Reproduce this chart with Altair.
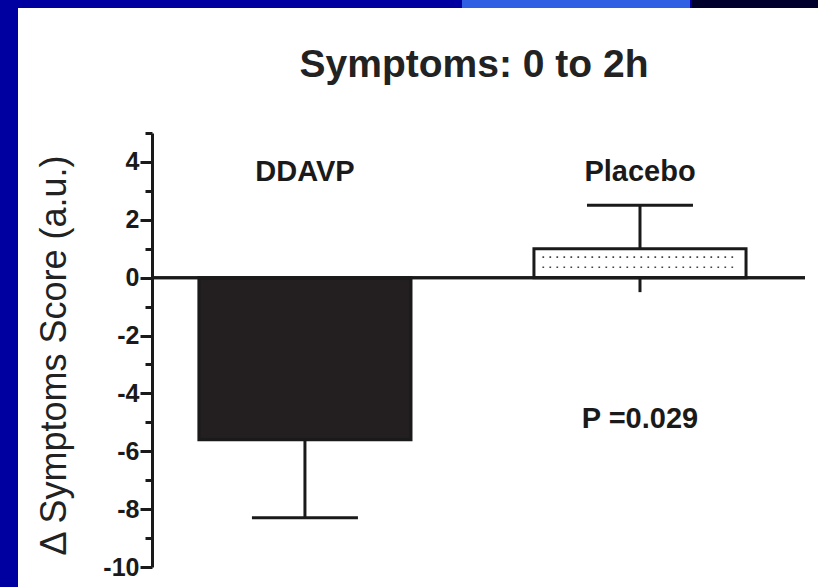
import altair as alt
import pandas as pd

# ---- data ----
groups = ["DDAVP", "Placebo"]
means = [-5.6, 1.0]
sems = [2.7, 1.5]
y_ticks = list(range(-10, 6))
p_text = "P =0.029"
title_text = "Symptoms: 0 to 2h"
y_title = "\u0394 Symptoms Score (a.u.)"

df = pd.DataFrame({"group": groups, "mean": means, "sem": sems})

FONT = "Liberation Sans"
INK = "#1a1a1a"

base = alt.Chart(df)

x_scale = alt.Scale(domain=groups, paddingInner=0.367, paddingOuter=0.158, align=0.443)
x_enc = alt.X("group:N", scale=x_scale, axis=None)
y_scale = alt.Scale(domain=[-10, 5], nice=False, zero=False)

y_axis = alt.Axis(
    values=y_ticks,
    labelExpr="datum.value % 2 === 0 ? '' + datum.value : ''",
    tickSize={"condition": {"test": "datum.value % 2 === 0", "value": 12}, "value": 7},
    tickWidth=3,
    tickColor=INK,
    domainColor=INK,
    domainWidth=3,
    grid=False,
    labelFont=FONT,
    labelFontWeight="bold",
    labelFontSize=25,
    labelColor=INK,
    labelPadding=1,
    title=y_title,
    titleFont=FONT,
    titleFontSize=36,
    titleFontWeight="normal",
    titleColor="#222222",
    titleAngle=270,
    titleAlign="center",
    titleBaseline="alphabetic",
    titleX=-87,
    titleY=222,
    zindex=1,
)

# decorative slide frame (white panel over blue background)
deco = alt.Chart(pd.DataFrame({"k": [0]}))
panel = deco.mark_rect(color="white").encode(
    x=alt.value(-134), x2=alt.value(666), y=alt.value(-125), y2=alt.value(454)
)
strip_light = deco.mark_rect(color="#2f5fe2").encode(
    x=alt.value(310), x2=alt.value(538), y=alt.value(-133), y2=alt.value(-125)
)
strip_dark = deco.mark_rect(color="#00002c").encode(
    x=alt.value(540), x2=alt.value(666), y=alt.value(-133), y2=alt.value(-125)
)

calc = base.transform_calculate(
    lo="datum.mean - datum.sem",
    hi="datum.mean + datum.sem",
    cap="datum.mean < 0 ? datum.mean - datum.sem : datum.mean + datum.sem",
)

bars = base.mark_bar(stroke=INK, strokeWidth=3).encode(
    x=x_enc,
    y=alt.Y("mean:Q", scale=y_scale, axis=y_axis),
    color=alt.Color("group:N", scale=alt.Scale(domain=groups, range=["#231f20", "#ffffff"]), legend=None),
)

err = calc.mark_rule(color=INK, strokeWidth=3).encode(
    x=x_enc,
    y=alt.Y("lo:Q", scale=y_scale, axis=y_axis),
    y2="hi:Q",
)
caps = calc.mark_tick(color=INK, thickness=3, size=106, opacity=1).encode(
    x=x_enc,
    y=alt.Y("cap:Q", scale=y_scale, axis=y_axis),
)

dots = (
    base.transform_filter("datum.mean > 0")
    .transform_calculate(r1="datum.mean * 0.71", r2="datum.mean * 0.36")
    .transform_fold(["r1", "r2"])
    .mark_rule(color="#444444", strokeWidth=1.7, strokeDash=[1.7, 5.3])
    .encode(
        x=alt.X("group:N", bandPosition=0.04, scale=x_scale, axis=None),
        x2=alt.X2("group", bandPosition=0.96),
        y=alt.Y("value:Q", scale=y_scale, axis=y_axis),
    )
)

zero_line = base.mark_rule(color=INK, strokeWidth=3).encode(
    y=alt.Y(datum=0, scale=y_scale, axis=y_axis)
)

labels = base.mark_text(font=FONT, fontWeight="bold", fontSize=29, color=INK, baseline="alphabetic").encode(
    x=x_enc,
    y=alt.Y(datum=3.33, scale=y_scale, axis=y_axis),
    text="group:N",
)

ptext = alt.Chart(pd.DataFrame({"t": [p_text]})).mark_text(
    font=FONT, fontWeight="bold", fontSize=29, color=INK, baseline="alphabetic"
).encode(
    x=alt.X(datum="Placebo", type="nominal"),
    y=alt.Y(datum=-5.2, scale=y_scale, axis=y_axis),
    text="t:N",
)

# chart title drawn as a text mark centred over the plot area
title_mark = alt.Chart(pd.DataFrame({"t": [title_text]})).mark_text(
    font=FONT, fontSize=39, fontWeight="bold", color="#222222", baseline="alphabetic", align="center"
).encode(
    x=alt.value(322),
    y=alt.value(-56),
    text="t:N",
)

chart = (
    alt.layer(panel, strip_light, strip_dark, err, caps, bars, dots, zero_line, labels, ptext, title_mark)
    .properties(
        width=653,
        height=434,
        padding={"left": 152, "top": 133, "right": 13, "bottom": 20},
        autosize=alt.AutoSizeParams(type="none"),
        background="#0000a0",
    )
    .configure_view(stroke=None)
)

chart.save("out.html", embed_options={"renderer": "svg", "actions": False})
